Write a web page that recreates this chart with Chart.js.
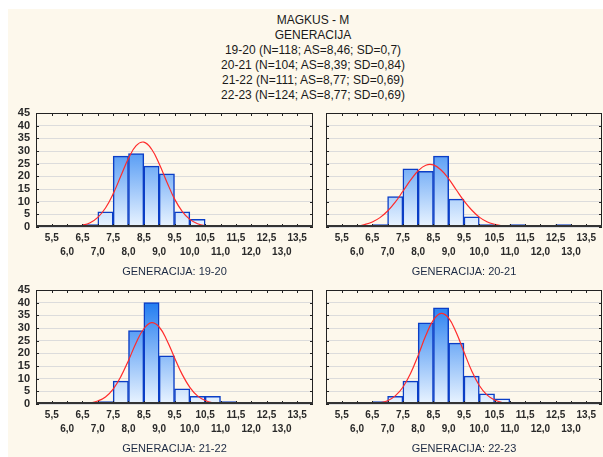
<!DOCTYPE html>
<html>
<head>
<meta charset="utf-8">
<script src="https://cdn.jsdelivr.net/npm/chart.js@4.4.1/dist/chart.umd.min.js"></script>
<style>
  html, body { margin: 0; padding: 0; background: #fff; width: 603px; height: 457px; overflow: hidden; }
  #paper { position: absolute; left: 8px; top: 9px; width: 595px; height: 448px; background: #fdf8ec; }
  canvas { position: absolute; left: 0; top: 0; }
  #title { position: absolute; left: 163px; width: 300px; top: 13px; text-align: center;
           font: 12px "Liberation Sans", Arial, sans-serif; line-height: 15px; color: #1a1a1a; white-space: nowrap; }
</style>
</head>
<body>
<div id="paper"></div>
<div id="title">
  MAGKUS - M<br>
  GENERACIJA<br>
  19-20 (N=118; AS=8,46; SD=0,7)<br>
  20-21 (N=104; AS=8,39; SD=0,84)<br>
  21-22 (N=111; AS=8,77; SD=0,69)<br>
  22-23 (N=124; AS=8,77; SD=0,69)
</div>
<canvas id="c1" width="620" height="470"></canvas>
<canvas id="c2" width="620" height="470"></canvas>
<canvas id="c3" width="620" height="470"></canvas>
<canvas id="c4" width="620" height="470"></canvas>
<script>
// bin centres (bins 0.5 wide)
const binCenters = [6.75, 7.25, 7.75, 8.25, 8.75, 9.25, 9.75, 10.25, 10.75, 11.25, 11.75, 12.25, 12.75];
const counts1920 = [1, 6, 28, 29, 24, 21, 6, 3, 0, 0, 0, 0, 0];
const counts2021 = [1, 12, 23, 22, 28, 11, 4, 1, 0, 1, 0, 0, 1];
const counts2122 = [0, 1, 9, 29, 40, 19, 6, 3, 3, 1, 0, 0, 0];
const counts2223 = [1, 3, 9, 32, 38, 24, 11, 4, 2, 0, 0, 0, 0];

// fitted normal curves
const curveX1920 = [6.25, 6.5, 6.75, 7, 7.25, 7.5, 7.75, 8, 8.25, 8.5, 8.75, 9, 9.25, 9.5, 9.75, 10, 10.25, 10.5, 10.75];
const curveY1920 = [0.2, 0.7, 1.7, 3.8, 7.5, 13.1, 20.1, 27.1, 32.1, 33.5, 30.8, 25.0, 17.8, 11.1, 6.2, 3.0, 1.3, 0.5, 0.2];
const curveX2021 = [5.75, 6, 6.25, 6.5, 6.75, 7, 7.25, 7.5, 7.75, 8, 8.25, 8.5, 8.75, 9, 9.25, 9.5, 9.75, 10, 10.25, 10.5, 10.75, 11];
const curveY2021 = [0.2, 0.4, 1.0, 2.0, 3.7, 6.3, 9.8, 14.1, 18.5, 22.2, 24.4, 24.5, 22.5, 19.0, 14.6, 10.3, 6.7, 3.9, 2.1, 1.1, 0.5, 0.2];
const curveX2122 = [6.5, 6.75, 7, 7.25, 7.5, 7.75, 8, 8.25, 8.5, 8.75, 9, 9.25, 9.5, 9.75, 10, 10.25, 10.5, 10.75, 11];
const curveY2122 = [0.1, 0.4, 1.2, 2.8, 5.9, 10.8, 17.2, 24.2, 29.7, 32.1, 30.4, 25.2, 18.3, 11.7, 6.6, 3.2, 1.4, 0.5, 0.2];
const curveX2223 = [6.5, 6.75, 7, 7.25, 7.5, 7.75, 8, 8.25, 8.5, 8.75, 9, 9.25, 9.5, 9.75, 10, 10.25, 10.5, 10.75, 11];
const curveY2223 = [0.2, 0.5, 1.3, 3.2, 6.6, 12.0, 19.2, 27.0, 33.2, 35.8, 33.9, 28.1, 20.5, 13.1, 7.3, 3.6, 1.6, 0.6, 0.2];

const xTickValues = [5.5, 6, 6.5, 7, 7.5, 8, 8.5, 9, 9.5, 10, 10.5, 11, 11.5, 12, 12.5, 13, 13.5];
const xTickLabels = ['5,5', '6,0', '6,5', '7,0', '7,5', '8,0', '8,5', '9,0', '9,5', '10,0', '10,5', '11,0', '11,5', '12,0', '12,5', '13,0', '13,5'];
const yTickValues = [0, 5, 10, 15, 20, 25, 30, 35, 40, 45];

const FONT = '"Liberation Sans", Arial, sans-serif';

// frame + inward tick marks, statistica style
const framePlugin = {
  id: 'frame',
  afterDatasetsDraw(chart) {
    const { ctx, chartArea: a, scales: { x, y } } = chart;
    ctx.save();
    ctx.strokeStyle = '#222';
    ctx.lineWidth = 1;
    ctx.beginPath();
    xTickValues.forEach(v => {
      const px = Math.round(x.getPixelForValue(v)) + 0.5;
      ctx.moveTo(px, a.top); ctx.lineTo(px, a.top + 3);
      ctx.moveTo(px, a.bottom); ctx.lineTo(px, a.bottom - 3);
    });
    yTickValues.forEach(v => {
      const py = Math.round(y.getPixelForValue(v)) + 0.5;
      ctx.moveTo(a.left, py); ctx.lineTo(a.left + 3, py);
      ctx.moveTo(a.right, py); ctx.lineTo(a.right - 3, py);
    });
    ctx.stroke();
    ctx.strokeRect(a.left + 0.5, a.top + 0.5, a.right - a.left - 1, a.bottom - a.top - 1);
    ctx.lineWidth = 2;
    ctx.strokeStyle = '#333';
    ctx.beginPath();
    ctx.moveTo(a.left, a.bottom - 1); ctx.lineTo(a.right, a.bottom - 1);
    ctx.stroke();
    ctx.restore();
  }
};

function barFill(context) {
  const a = context.chart.chartArea;
  if (!a) return '#7fb8f6';
  const g = context.chart.ctx.createLinearGradient(0, a.top, 0, a.bottom);
  g.addColorStop(0, '#0a6eef');
  g.addColorStop(1, '#eaf4ff');
  return g;
}

function makePanel(id, counts, curveX, curveY, title, showY, left, right, top, bottom) {
  const bars = [];
  binCenters.forEach((c, i) => { if (counts[i] > 0) bars.push({ x: c, y: counts[i] }); });
  const curve = curveX.map((v, i) => ({ x: v, y: curveY[i] }));

  return new Chart(document.getElementById(id), {
    type: 'bar',
    data: {
      datasets: [
        {
          type: 'line',
          data: curve,
          borderColor: '#ff2b2b',
          borderWidth: 1.2,
          pointRadius: 0,
          tension: 0.4,
          fill: false,
          order: 0
        },
        {
          type: 'bar',
          data: bars,
          backgroundColor: barFill,
          borderColor: '#0b3ec6',
          borderWidth: 1.5,
          barPercentage: 1,
          categoryPercentage: 1,
          order: 1
        }
      ]
    },
    options: {
      responsive: false,
      animation: false,
      layout: { padding: { left: left - 30, right: 620 - right, top: top, bottom: 470 - bottom - 52 } },
      plugins: { legend: { display: false }, tooltip: { enabled: false } },
      scales: {
        x: {
          type: 'linear',
          min: 5.25,
          max: 13.75,
          afterBuildTicks: s => { s.ticks = xTickValues.map(v => ({ value: v })); },
          afterFit: s => { s.height = 52; },
          grid: { display: false, drawTicks: false },
          border: { display: false },
          ticks: {
            autoSkip: false,
            maxRotation: 0,
            minRotation: 0,
            padding: 4,
            color: '#2a2a2a',
            font: { family: FONT, size: 10, weight: 'bold', lineHeight: '14px' },
            callback: (v) => {
              const i = xTickValues.indexOf(v);
              return (i % 2 === 0) ? [xTickLabels[i], ''] : ['', xTickLabels[i]];
            }
          },
          title: {
            display: true,
            text: title,
            color: '#1c2a44',
            font: { family: FONT, size: 11 },
            padding: 0
          }
        },
        y: {
          min: 0,
          max: 45,
          afterBuildTicks: s => { s.ticks = yTickValues.map(v => ({ value: v })); },
          afterFit: s => { s.width = 30; },
          grid: { color: '#dcdcdc', lineWidth: 1, drawTicks: false },
          border: { display: false },
          ticks: {
            display: showY,
            autoSkip: false,
            padding: 6,
            color: '#2a2a2a',
            font: { family: FONT, size: 11, weight: 'bold' }
          }
        }
      }
    },
    plugins: [framePlugin]
  });
}

makePanel('c1', counts1920, curveX1920, curveY1920, 'GENERACIJA: 19-20', true, 36, 313, 113, 227);
makePanel('c2', counts2021, curveX2021, curveY2021, 'GENERACIJA: 20-21', false, 326, 602, 113, 227);
makePanel('c3', counts2122, curveX2122, curveY2122, 'GENERACIJA: 21-22', true, 36, 313, 290, 404);
makePanel('c4', counts2223, curveX2223, curveY2223, 'GENERACIJA: 22-23', false, 326, 602, 290, 404);
</script>
</body>
</html>
